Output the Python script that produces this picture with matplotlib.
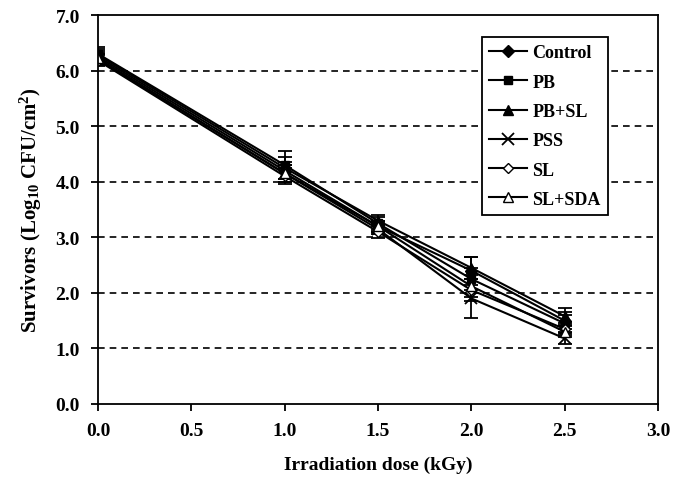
import matplotlib
matplotlib.use("Agg")
import matplotlib.pyplot as plt
from matplotlib.lines import Line2D

plt.rcParams['font.family'] = ['Liberation Serif']
plt.rcParams['font.weight'] = 'bold'
plt.rcParams['mathtext.fontset'] = 'custom'
plt.rcParams['mathtext.rm'] = 'Liberation Serif:bold'
plt.rcParams['mathtext.bf'] = 'Liberation Serif:bold'
plt.rcParams['mathtext.it'] = 'Liberation Serif:bold'

dose = [0.0, 1.0, 1.5, 2.0, 2.5]
series_names = ["Control", "PB", "PB+SL", "PSS", "SL", "SL+SDA"]
control = [6.25, 4.20, 3.20, 2.40, 1.50]
pb = [6.30, 4.30, 3.25, 2.25, 1.45]
pb_sl = [6.28, 4.25, 3.30, 2.45, 1.58]
pss = [6.20, 4.15, 3.15, 1.90, 1.18]
sl = [6.18, 4.10, 3.10, 2.05, 1.35]
sl_sda = [6.22, 4.15, 3.20, 2.12, 1.30]
control_err = [0.10, 0.15, 0.10, 0.25, 0.15]
pb_err = [0.12, 0.25, 0.12, 0.20, 0.15]
pb_sl_err = [0.10, 0.20, 0.10, 0.20, 0.15]
pss_err = [0.10, 0.15, 0.10, 0.35, 0.10]
sl_err = [0.10, 0.15, 0.12, 0.20, 0.10]
sl_sda_err = [0.10, 0.15, 0.10, 0.20, 0.10]
xticks = [0.0, 0.5, 1.0, 1.5, 2.0, 2.5, 3.0]
yticks = [0.0, 1.0, 2.0, 3.0, 4.0, 5.0, 6.0, 7.0]

values = [control, pb, pb_sl, pss, sl, sl_sda]
errors = [control_err, pb_err, pb_sl_err, pss_err, sl_err, sl_sda_err]
styles = [
    dict(marker='D', mfc='black', ms=6),
    dict(marker='s', mfc='black', ms=6),
    dict(marker='^', mfc='black', ms=7),
    dict(marker='x', mfc='black', ms=8, mew=1.3),
    dict(marker='D', mfc='white', ms=5),
    dict(marker='^', mfc='white', ms=7),
]

fig = plt.figure(figsize=(6.73, 4.85), dpi=100)
ax = fig.add_axes([0.1456, 0.165, 0.832, 0.802])

handles = []
for name, v, e, st in zip(series_names, values, errors, styles):
    ax.errorbar(dose, v, yerr=e, color='black', mec='black', lw=1.5,
                elinewidth=1.3, capsize=5, capthick=1.3, **st)
    handles.append(Line2D([], [], color='black', mec='black', lw=1.5, label=name, **st))

ax.set_xlim(0, 3.0)
ax.set_ylim(0, 7.0)
ax.set_xticks(xticks)
ax.set_yticks(yticks)
ax.set_xticklabels([f"{t:.1f}" for t in xticks], fontsize=14, fontweight='bold')
ax.set_yticklabels([f"{t:.1f}" for t in yticks], fontsize=14, fontweight='bold')
ax.tick_params(direction='out', length=5, width=1.3, pad=8)
for t in [1.0, 2.0, 3.0, 4.0, 5.0, 6.0]:
    ax.axhline(t, color='black', lw=1.2, ls=(0, (4, 3)), zorder=0)
for s in ax.spines.values():
    s.set_linewidth(1.3)

ax.set_xlabel("Irradiation dose (kGy)", fontsize=14, fontweight='bold', labelpad=12)
ax.set_ylabel("Survivors (Log$_{10}$ CFU/cm$^{2}$)", fontsize=15, fontweight='bold', labelpad=8)

leg = ax.legend(handles=handles, loc='upper right', bbox_to_anchor=(0.911, 0.943), fontsize=13,
                frameon=True, fancybox=False, edgecolor='black', handlelength=2.1,
                handletextpad=0.3, labelspacing=0.68, borderpad=0.4, borderaxespad=0)
leg.get_frame().set_linewidth(1.3)
leg.get_frame().set_alpha(1)

fig.savefig("out.png", dpi=100, facecolor='white')
